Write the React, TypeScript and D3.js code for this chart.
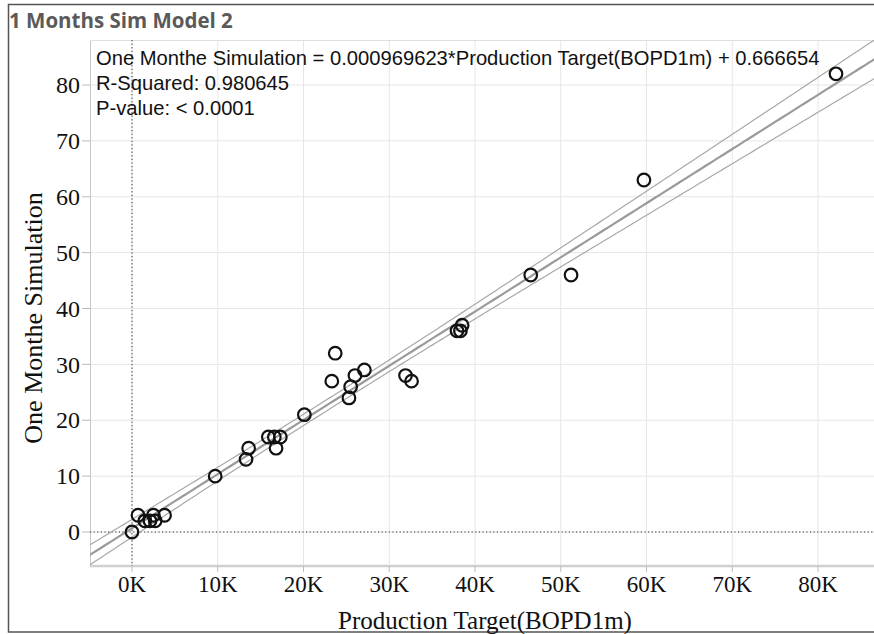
import React, { useEffect, useRef } from "react";
import * as d3 from "d3";

// Production Target (BOPD1m) vs One Monthe Simulation
const target = [0, 700, 1500, 2100, 2500, 2700, 3800, 9700, 13300, 13600, 15900, 16600, 17300, 16800, 20100,
  23300, 23700, 25300, 25500, 26000, 27100, 31900, 32600, 37900, 38300, 38500, 46500, 51200, 59700, 82100];
const simulation = [0, 3, 2, 2, 3, 2, 3, 10, 13, 15, 17, 17, 17, 15, 21,
  27, 32, 24, 26, 28, 29, 28, 27, 36, 36, 37, 46, 46, 63, 82];

const slope = 0.000969623;
const intercept = 0.666654;
const xTicks = [0, 10000, 20000, 30000, 40000, 50000, 60000, 70000, 80000];
const yTicks = [0, 10, 20, 30, 40, 50, 60, 70, 80];
const annotations = [
  "One Monthe Simulation = 0.000969623*Production Target(BOPD1m) + 0.666654",
  "R-Squared: 0.980645",
  "P-value: < 0.0001",
];

const W = 874;
const H = 634;

export default function App() {
  const ref = useRef<SVGSVGElement>(null);

  useEffect(() => {
    const svg = d3.select(ref.current);
    svg.selectAll("*").remove();

    const left = 90, right = 880, top = 40, bottom = 566;
    const x = d3.scaleLinear().domain([0, 80000]).range([132, 818]);
    const y = d3.scaleLinear().domain([0, 80]).range([532, 85]);
    const serif = "'Liberation Serif', 'Times New Roman', serif";

    svg.append("rect").attr("width", W).attr("height", H).attr("fill", "#fff");

    // outer frame + title
    svg.append("rect")
      .attr("x", 8.5).attr("y", 4.5).attr("width", 900).attr("height", 627.5)
      .attr("fill", "none").attr("stroke", "#555").attr("stroke-width", 1.5);
    svg.append("text")
      .attr("x", 9).attr("y", 28)
      .attr("font-family", "'Open Sans', sans-serif").attr("font-weight", "bold")
      .attr("font-size", 20.5).attr("fill", "#5a5a5a")
      .text("1 Months Sim Model 2");

    svg.append("clipPath").attr("id", "plotclip")
      .append("rect").attr("x", left).attr("y", top).attr("width", right - left).attr("height", bottom - top);

    const g = svg.append("g");

    // grid
    g.selectAll("line.vg").data(xTicks).enter().append("line")
      .attr("x1", d => x(d)).attr("x2", d => x(d)).attr("y1", top).attr("y2", bottom)
      .attr("stroke", "#e6e6e6");
    g.selectAll("line.hg").data(yTicks).enter().append("line")
      .attr("y1", d => y(d)).attr("y2", d => y(d)).attr("x1", left).attr("x2", right)
      .attr("stroke", "#e6e6e6");

    // plot border
    g.append("line").attr("x1", left + 0.5).attr("x2", left + 0.5).attr("y1", top).attr("y2", bottom)
      .attr("stroke", "#c8c8c8");
    g.append("line").attr("x1", left).attr("x2", right).attr("y1", top + 0.5).attr("y2", top + 0.5)
      .attr("stroke", "#e0e0e0");
    g.append("line").attr("x1", left).attr("x2", right).attr("y1", bottom).attr("y2", bottom)
      .attr("stroke", "#d0d0d0").attr("stroke-width", 2.5);

    // zero lines
    g.append("line").attr("x1", x(0)).attr("x2", x(0)).attr("y1", top).attr("y2", bottom)
      .attr("stroke", "#333").attr("stroke-dasharray", "1.2,2.4");
    g.append("line").attr("x1", left).attr("x2", right).attr("y1", y(0)).attr("y2", y(0))
      .attr("stroke", "#333").attr("stroke-dasharray", "1.2,2.4");

    // ticks
    g.selectAll("line.yt").data(yTicks).enter().append("line")
      .attr("x1", 82).attr("x2", left).attr("y1", d => y(d)).attr("y2", d => y(d))
      .attr("stroke", "#bbb");
    g.selectAll("line.xt").data(xTicks).enter().append("line")
      .attr("x1", d => x(d)).attr("x2", d => x(d)).attr("y1", bottom).attr("y2", bottom + 6)
      .attr("stroke", "#bbb");

    g.selectAll("text.yl").data(yTicks).enter().append("text")
      .attr("x", 80).attr("y", d => y(d)).attr("dy", "0.34em")
      .attr("text-anchor", "end")
      .attr("font-family", serif).attr("font-size", 24).attr("fill", "#111")
      .text(d => d);
    g.selectAll("text.xl").data(xTicks).enter().append("text")
      .attr("x", d => x(d)).attr("y", 592)
      .attr("text-anchor", "middle")
      .attr("font-family", serif).attr("font-size", 23).attr("fill", "#111")
      .text(d => d / 1000 + "K");

    svg.append("text")
      .attr("x", 485).attr("y", 629).attr("text-anchor", "middle")
      .attr("font-family", serif).attr("font-size", 25).attr("fill", "#111")
      .text("Production Target(BOPD1m)");
    svg.append("text")
      .attr("transform", "translate(42,318) rotate(-90)").attr("text-anchor", "middle")
      .attr("font-family", serif).attr("font-size", 26).attr("fill", "#111")
      .text("One Monthe Simulation");

    // fit + confidence band for the mean
    const n = target.length;
    const xbar = d3.mean(target) as number;
    const sxx = d3.sum(target, v => (v - xbar) ** 2);
    const sse = d3.sum(target, (v, i) => (simulation[i] - (slope * v + intercept)) ** 2);
    const s = Math.sqrt(sse / (n - 2));
    const t = 2.048;
    const xs = d3.range(-6000, 90001, 500);
    const band = (sign: number) => (v: number) =>
      slope * v + intercept + sign * t * s * Math.sqrt(1 / n + (v - xbar) ** 2 / sxx);

    const plot = svg.append("g").attr("clip-path", "url(#plotclip)");
    const line = d3.line<number>().x(v => x(v));
    [-1, 1].forEach(sign => {
      const f = band(sign);
      plot.append("path")
        .attr("d", line.y(v => y(f(v)))(xs))
        .attr("fill", "none").attr("stroke", "#a8a8a8").attr("stroke-width", 1.2);
    });
    plot.append("path")
      .attr("d", line.y(v => y(slope * v + intercept))(xs))
      .attr("fill", "none").attr("stroke", "#9a9a9a").attr("stroke-width", 2.2);

    plot.selectAll("circle").data(target).enter().append("circle")
      .attr("cx", d => x(d)).attr("cy", (d, i) => y(simulation[i]))
      .attr("r", 6.3).attr("fill", "none").attr("stroke", "#111").attr("stroke-width", 2.2);

    // annotation text
    svg.selectAll("text.ann").data(annotations).enter().append("text")
      .attr("x", 96).attr("y", (d, i) => 65 + i * 25)
      .attr("font-family", "'Liberation Sans', Arial, sans-serif").attr("font-size", 20.2).attr("fill", "#111")
      .text(d => d);
  }, []);

  return (
    <div style={{ position: "absolute", left: 0, top: 0 }}>
      <svg ref={ref} width={W} height={H} style={{ display: "block" }}></svg>
    </div>
  );
}
